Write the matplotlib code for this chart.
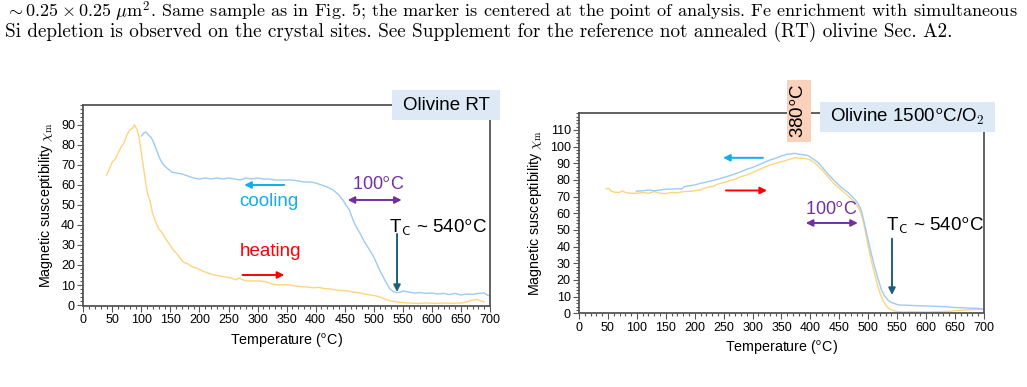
import numpy as np
import matplotlib
matplotlib.use('Agg')
import matplotlib.pyplot as plt
from matplotlib.patches import Rectangle
from matplotlib.ticker import MultipleLocator

plt.rcParams['font.family'] = 'Liberation Sans'
plt.rcParams['mathtext.fontset'] = 'cm'

# --- data ---
rt_heat_T = [40, 45, 50, 55, 60, 65, 70, 75, 80, 85, 88, 92, 96, 100, 104, 108, 111, 115, 119, 124,
             130, 136, 142, 148, 155, 160, 165, 172, 180, 188, 195, 205, 215, 225, 235, 245, 255, 262,
             268, 275, 285, 295, 305, 315, 325, 335, 345, 355, 365, 375, 385, 395, 405, 415, 425, 435,
             445, 455, 465, 475, 485, 495, 505, 515, 522, 530, 540, 550, 560, 575, 590, 605, 620, 635,
             650, 660, 670, 678, 685, 690]
rt_heat_X = [65, 68, 71.5, 73, 76, 79, 81, 85, 87.5, 88.5, 90, 88, 84, 76, 68, 60, 55, 52, 46, 42,
             38, 36, 33, 30.5, 27.5, 26, 24, 21.5, 20.5, 19, 18.5, 17, 16, 15, 14.5, 14, 13.5, 12.5,
             13.5, 12.5, 12, 12, 12, 11.5, 10.5, 10, 10.2, 10, 9.5, 9.2, 9, 8.6, 8.8, 8.2, 8, 7.5,
             7.2, 7, 6.5, 6, 5.5, 5, 4.5, 3.5, 2.5, 2, 1.5, 1.2, 1, 0.8, 1, 0.8, 1, 0.9,
             1, 1.5, 2.5, 2.8, 2.0, 1.5]

rt_cool_T = [100, 104, 108, 112, 116, 120, 124, 128, 132, 136, 140, 146, 152, 160, 170, 180, 190, 200,
             210, 220, 230, 240, 250, 260, 270, 280, 290, 300, 310, 320, 330, 340, 350, 360, 370, 380,
             390, 400, 410, 420, 430, 440, 447, 452, 458, 465, 470, 476, 485, 493, 500, 510, 518, 527,
             533, 539, 545, 550, 560, 570, 580, 590, 600, 610, 620, 630, 640, 650, 660, 670, 680, 690,
             695, 700]
rt_cool_X = [84.5, 86, 86.5, 85, 84, 82, 79, 76, 73, 71, 69.5, 68, 66.5, 66, 65.5, 64.5, 63.5, 63,
             63.5, 63, 63.5, 63, 63.5, 63, 62.5, 63.5, 63, 63.5, 63, 63, 62.5, 62.5, 62.5, 62.5, 62, 61.5,
             61.5, 61, 60, 59, 57.5, 55, 52.5, 50, 47.5, 42, 39, 36, 31, 27.5, 24, 17.5, 13, 8.3,
             6.8, 6.2, 6.3, 7, 6.5, 6, 6.2, 5.8, 6, 5.5, 5.8, 5.2, 5.8, 5, 5.5, 5.3, 5.8, 6,
             5, 4.5]

ox_heat_T = [47, 52, 55, 60, 70, 75, 80, 90, 100, 110, 120, 130, 140, 150, 160, 170, 180, 190, 200,
             210, 220, 230, 240, 250, 260, 270, 280, 290, 300, 310, 320, 330, 340, 350, 360, 370, 375,
             380, 390, 400, 410, 420, 430, 440, 450, 460, 470, 478, 485, 490, 495, 500, 505, 510, 515,
             520, 525, 530, 535, 540, 550, 560, 580, 600, 620, 640, 660, 680, 700]
ox_heat_X = [74.7, 75, 73.5, 72.7, 72.5, 73.5, 72.5, 72, 72, 72.5, 72, 73, 72, 71.8, 72.5, 72.3, 73, 73.2, 73.5,
             74, 75.5, 76, 77.5, 78.5, 79.5, 80.5, 82, 83, 84.5, 86, 87.5, 89, 90, 91, 92, 93, 93.6,
             93, 93, 92, 89.5, 86, 82, 78, 75, 72, 69, 66, 62, 57, 49, 40, 32, 25, 18,
             12.5, 8, 5, 3, 2, 1, 0.8, 1, 0.8, 1, 1.2, 1.8, 2.2, 2.5]

ox_cool_T = [99, 110, 120, 130, 140, 150, 160, 170, 178, 182, 190, 200, 210, 220, 230, 240, 250, 260,
             270, 280, 290, 300, 310, 320, 330, 340, 350, 360, 365, 372, 380, 390, 396, 405, 413, 422,
             430, 440, 453, 465, 476, 482, 488, 494, 500, 505, 511, 517, 523, 528, 534, 540, 552, 570,
             590, 610, 630, 650, 670, 690, 700]
ox_cool_X = [73.3, 73.5, 74, 73.5, 74, 74.5, 74.5, 74.7, 74.7, 76, 76.5, 77, 78, 78.7, 79.5, 80.5, 81.5, 82.5,
             83.7, 85, 86.5, 87.5, 89, 90.5, 92, 93, 94.5, 95.5, 95.5, 96, 95.5, 95, 94.6, 92.5, 90.6, 87,
             83.7, 80, 75.7, 72.5, 68.7, 66, 61.8, 53, 43.8, 36, 27.9, 20.5, 13.9, 10.5, 8, 6.5, 5, 4.8,
             4.5, 4.3, 4, 3.5, 3.2, 3, 2.5]

caption = [r"$\sim 0.25\times 0.25\ \mu\mathrm{m}^2$. Same sample as in Fig. 5; the marker is centered at the point of analysis. Fe enrichment with simultaneous",
           "Si depletion is observed on the crystal sites. See Supplement for the reference not annealed (RT) olivine Sec. A2."]

heat_c = '#FFD47F'
cool_c = '#9DCBF2'
blue_a = '#12ADEB'
red_a = '#FF0000'
purple = '#7030A0'
teal = '#1F5F7C'
spine_c = '#555555'
DEG = r'$^{\mathsf{o}}$'

fig = plt.figure(figsize=(10.27, 3.87), dpi=100)

# caption lines: first one is justified in the source, so it is set a touch smaller
fig.text(0.005, 1 - 17 / 387, caption[0], family='cmr10', fontsize=13.1, va='baseline', ha='left')
fig.text(0.005, 1 - 37 / 387, caption[1], family='cmr10', fontsize=13.8, va='baseline', ha='left')

ax1 = fig.add_axes([0.0811, 0.2093, 0.3960, 0.5194])
ax2 = fig.add_axes([0.5638, 0.1904, 0.3943, 0.5168])


def style(ax, ymax, ytop):
    ax.set_xlim(0, 700)
    ax.set_ylim(-0.5 if ymax == 100 else 0, ymax)
    ax.set_xticks(np.arange(0, 701, 50))
    ax.set_yticks(np.arange(0, ytop + 1, 10))
    ax.xaxis.set_minor_locator(MultipleLocator(10))
    ax.yaxis.set_minor_locator(MultipleLocator(2))
    ax.tick_params(which='both', direction='out', color=spine_c, labelsize=9, width=0.8)
    ax.tick_params(which='major', length=4, pad=2)
    ax.tick_params(which='minor', length=2.5)
    for s in ax.spines.values():
        s.set_color(spine_c)
        s.set_linewidth(1.3)
    ax.set_xlabel('Temperature (' + DEG + 'C)', fontsize=10.3, labelpad=3)
    ax.set_ylabel(r'Magnetic susceptibility $\chi_\mathrm{m}$', fontsize=10.3, labelpad=4)


def arrow(ax, x0, y0, x1, y1, c, style='-|>'):
    ax.annotate('', xy=(x1, y1), xytext=(x0, y0),
                arrowprops=dict(arrowstyle=style, color=c, lw=1.4, mutation_scale=10,
                                shrinkA=0, shrinkB=0), annotation_clip=False)


# left panel: olivine RT
ax1.plot(rt_heat_T, rt_heat_X, color=heat_c, lw=1.0)
ax1.plot(rt_cool_T, rt_cool_X, color=cool_c, lw=1.0)
style(ax1, 100, 90)
arrow(ax1, 346, 60, 277, 60, blue_a)
arrow(ax1, 274, 15, 346, 15, red_a)
ax1.text(320, 51.5, 'cooling', color=blue_a, fontsize=13.5, ha='center', va='center')
ax1.text(323, 26.5, 'heating', color=red_a, fontsize=13.5, ha='center', va='center')
arrow(ax1, 455, 52.5, 548, 52.5, purple, '<|-|>')
ax1.text(507, 60, '100' + DEG + 'C', color=purple, fontsize=13, ha='center', va='center')
ax1.text(527, 36, r'T$_{\mathsf{C}}$ ~ 540' + DEG + 'C', fontsize=13.5, ha='left', va='baseline')
arrow(ax1, 540, 35.5, 540, 6.5, teal)

# right panel: olivine 1500C/O2
ax2.plot(ox_heat_T, ox_heat_X, color=heat_c, lw=1.0)
ax2.plot(ox_cool_T, ox_cool_X, color=cool_c, lw=1.0)
style(ax2, 120, 110)
arrow(ax2, 318, 93.3, 249, 93.3, blue_a)
arrow(ax2, 254, 73.7, 325, 73.7, red_a)
arrow(ax2, 392, 54.2, 482, 54.2, purple, '<|-|>')
ax2.text(436, 62, '100' + DEG + 'C', color=purple, fontsize=13, ha='center', va='center')
ax2.text(531, 49.4, r'T$_{\mathsf{C}}$ ~ 540' + DEG + 'C', fontsize=13.5, ha='left', va='baseline')
arrow(ax2, 541, 44.8, 541, 11, teal)

# label boxes sitting over the top spines
W, H = 1027.0, 387.0


def fig_box(x0, y0, x1, y1, fc):
    fig.patches.append(Rectangle((x0 / W, 1 - y1 / H), (x1 - x0) / W, (y1 - y0) / H,
                                 transform=fig.transFigure, facecolor=fc, edgecolor='none', zorder=2))


fig_box(392, 90, 500, 120, '#DDEAF6')
fig.text(446 / W, 1 - 105 / H, 'Olivine RT', fontsize=13.5, ha='center', va='center')

fig_box(787, 80, 811, 142, '#FAD2BC')
fig.text(799 / W, 1 - 111 / H, '380' + DEG + 'C', fontsize=13.5, rotation=90, ha='center', va='center')

fig_box(820, 101.7, 995, 132.3, '#DDEAF6')
fig.text(907.5 / W, 1 - 117 / H, 'Olivine 1500' + DEG + r'C/O$_{\mathsf{2}}$', fontsize=13.5,
         ha='center', va='center')

fig.savefig('out.png', dpi=100)
